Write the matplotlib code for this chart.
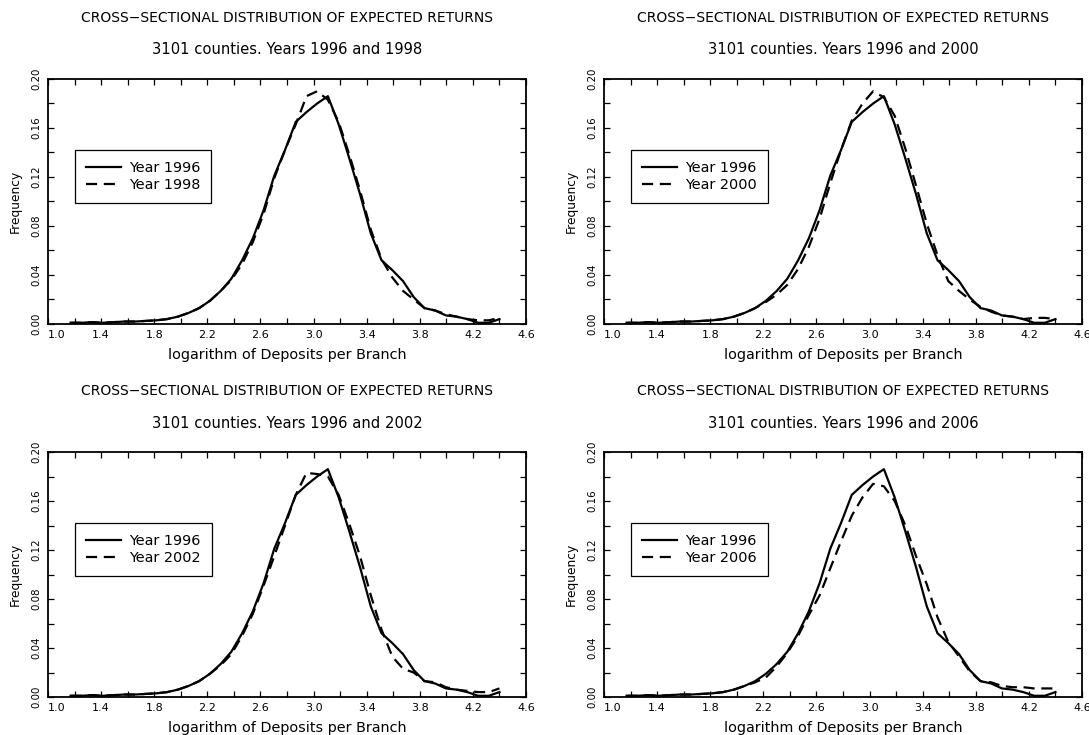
import matplotlib
matplotlib.use("Agg")
import matplotlib.pyplot as plt
from matplotlib.ticker import MultipleLocator

plt.rcParams['font.family'] = ['DejaVu Sans']

# eje x comun: logaritmo de depositos por sucursal
x_vals = [1.170, 1.251, 1.332, 1.412, 1.493, 1.574, 1.655, 1.735, 1.816, 1.897,
          1.978, 2.058, 2.139, 2.220, 2.301, 2.381, 2.462, 2.543, 2.624, 2.704,
          2.785, 2.866, 2.947, 3.027, 3.108, 3.189, 3.270, 3.350, 3.431, 3.512,
          3.593, 3.674, 3.754, 3.835, 3.916, 3.997, 4.077, 4.158, 4.239, 4.320,
          4.400]

freq_1996 = [0.001, 0.001, 0.0015, 0.001, 0.0015, 0.002, 0.002, 0.0025, 0.003, 0.004,
             0.006, 0.009, 0.013, 0.019, 0.027, 0.037, 0.052, 0.070, 0.093, 0.121,
             0.142, 0.165, 0.173, 0.180, 0.186, 0.163, 0.135, 0.106, 0.074, 0.052,
             0.044, 0.035, 0.022, 0.013, 0.011, 0.007, 0.006, 0.004, 0.001, 0.001,
             0.004]

freq_1998 = [0.001, 0.001, 0.0015, 0.001, 0.0015, 0.002, 0.002, 0.0025, 0.003, 0.004,
             0.006, 0.009, 0.013, 0.019, 0.027, 0.036, 0.049, 0.067, 0.090, 0.119,
             0.142, 0.163, 0.186, 0.190, 0.183, 0.165, 0.138, 0.109, 0.077, 0.053,
             0.038, 0.027, 0.020, 0.013, 0.011, 0.008, 0.006, 0.004, 0.003, 0.003,
             0.005]

freq_2000 = [0.001, 0.001, 0.0015, 0.001, 0.0015, 0.002, 0.002, 0.0025, 0.003, 0.004,
             0.006, 0.009, 0.013, 0.018, 0.024, 0.032, 0.045, 0.063, 0.086, 0.115,
             0.142, 0.166, 0.180, 0.190, 0.185, 0.170, 0.143, 0.113, 0.082, 0.056,
             0.035, 0.027, 0.020, 0.014, 0.010, 0.007, 0.006, 0.004, 0.005, 0.005,
             0.004]

freq_2002 = [0.001, 0.001, 0.0015, 0.001, 0.0015, 0.002, 0.002, 0.0025, 0.003, 0.004,
             0.006, 0.009, 0.013, 0.019, 0.026, 0.035, 0.050, 0.068, 0.091, 0.115,
             0.140, 0.165, 0.183, 0.182, 0.180, 0.165, 0.141, 0.115, 0.083, 0.055,
             0.033, 0.023, 0.020, 0.013, 0.012, 0.008, 0.006, 0.005, 0.004, 0.004,
             0.007]

freq_2006 = [0.001, 0.001, 0.0015, 0.001, 0.0015, 0.002, 0.002, 0.0025, 0.003, 0.004,
             0.006, 0.009, 0.012, 0.016, 0.025, 0.036, 0.050, 0.067, 0.083, 0.105,
             0.127, 0.148, 0.163, 0.174, 0.172, 0.160, 0.140, 0.115, 0.092, 0.065,
             0.045, 0.033, 0.021, 0.013, 0.012, 0.009, 0.008, 0.008, 0.007, 0.007,
             0.007]

years_cmp = ['1998', '2000', '2002', '2006']
series_cmp = [freq_1998, freq_2000, freq_2002, freq_2006]

x_ticks = [1.0, 1.4, 1.8, 2.2, 2.6, 3.0, 3.4, 3.8, 4.2, 4.6]
y_ticks = [0.00, 0.04, 0.08, 0.12, 0.16, 0.20]

W, H = 1089, 735
fig = plt.figure(figsize=(W / 100, H / 100), dpi=100)

# posiciones de los paneles en pixeles (izq, arriba)
lefts = [48, 604, 48, 604]
tops = [79, 79, 452, 452]
ax_w, ax_h = 478, 245

fs_title = 10.0
fs_sub = 10.6
fs_xlab = 10.4
fs_ylab = 8.8
fs_leg = 10.4

for i in range(4):
    ax = fig.add_axes([lefts[i] / W, 1 - (tops[i] + ax_h) / H, ax_w / W, ax_h / H])
    ax.plot(x_vals, freq_1996, color='black', lw=1.6, label='Year 1996')
    ax.plot(x_vals, series_cmp[i], color='black', lw=1.6, dashes=(5, 3),
            label='Year ' + years_cmp[i])
    ax.set_xlim(1.0, 4.6)
    ax.set_ylim(0.0, 0.2)
    ax.set_xticks(x_ticks)
    ax.set_xticklabels(['%.1f' % v for v in x_ticks])
    ax.set_yticks(y_ticks)
    ax.set_yticklabels(['%.2f' % v for v in y_ticks])
    ax.xaxis.set_minor_locator(MultipleLocator(0.2))
    ax.yaxis.set_minor_locator(MultipleLocator(0.02))
    ax.tick_params(which='both', direction='in', top=True, right=True, width=0.9)
    ax.tick_params(which='major', length=4.5)
    ax.tick_params(which='minor', length=4)
    ax.tick_params(axis='x', pad=4.5, labelsize=8)
    ax.tick_params(axis='y', pad=4.5, labelrotation=90, labelsize=7.4)
    for lab in ax.get_yticklabels():
        lab.set_va('center')
    ax.xaxis.get_major_ticks()[0].label1.set_horizontalalignment('left')
    for sp in ax.spines.values():
        sp.set_linewidth(1.3)

    ax.text(0.5, 1 + 61 / ax_h, 'CROSS\u2212SECTIONAL DISTRIBUTION OF EXPECTED RETURNS',
            transform=ax.transAxes, ha='center', va='center', fontsize=fs_title)
    ax.text(0.5, 1 + 29 / ax_h, '3101 counties. Years 1996 and ' + years_cmp[i],
            transform=ax.transAxes, ha='center', va='center', fontsize=fs_sub)
    ax.set_xlabel('logarithm of Deposits per Branch', fontsize=fs_xlab)
    ax.xaxis.set_label_coords(0.5, -31 / ax_h)
    ax.xaxis.label.set_va('center')
    ax.set_ylabel('Frequency', fontsize=fs_ylab)
    ax.yaxis.set_label_coords(-33 / ax_w, 0.5)
    ax.yaxis.label.set_va('center')

    leg = ax.legend(loc='upper left', bbox_to_anchor=(27 / ax_w, 1 - 71 / ax_h),
                    borderaxespad=0, fancybox=False, framealpha=1,
                    edgecolor='black', fontsize=fs_leg, handlelength=2.4,
                    handletextpad=0.6, borderpad=0.75, labelspacing=0.2)
    leg.get_frame().set_linewidth(0.9)

fig.savefig('out.png', dpi=100)
